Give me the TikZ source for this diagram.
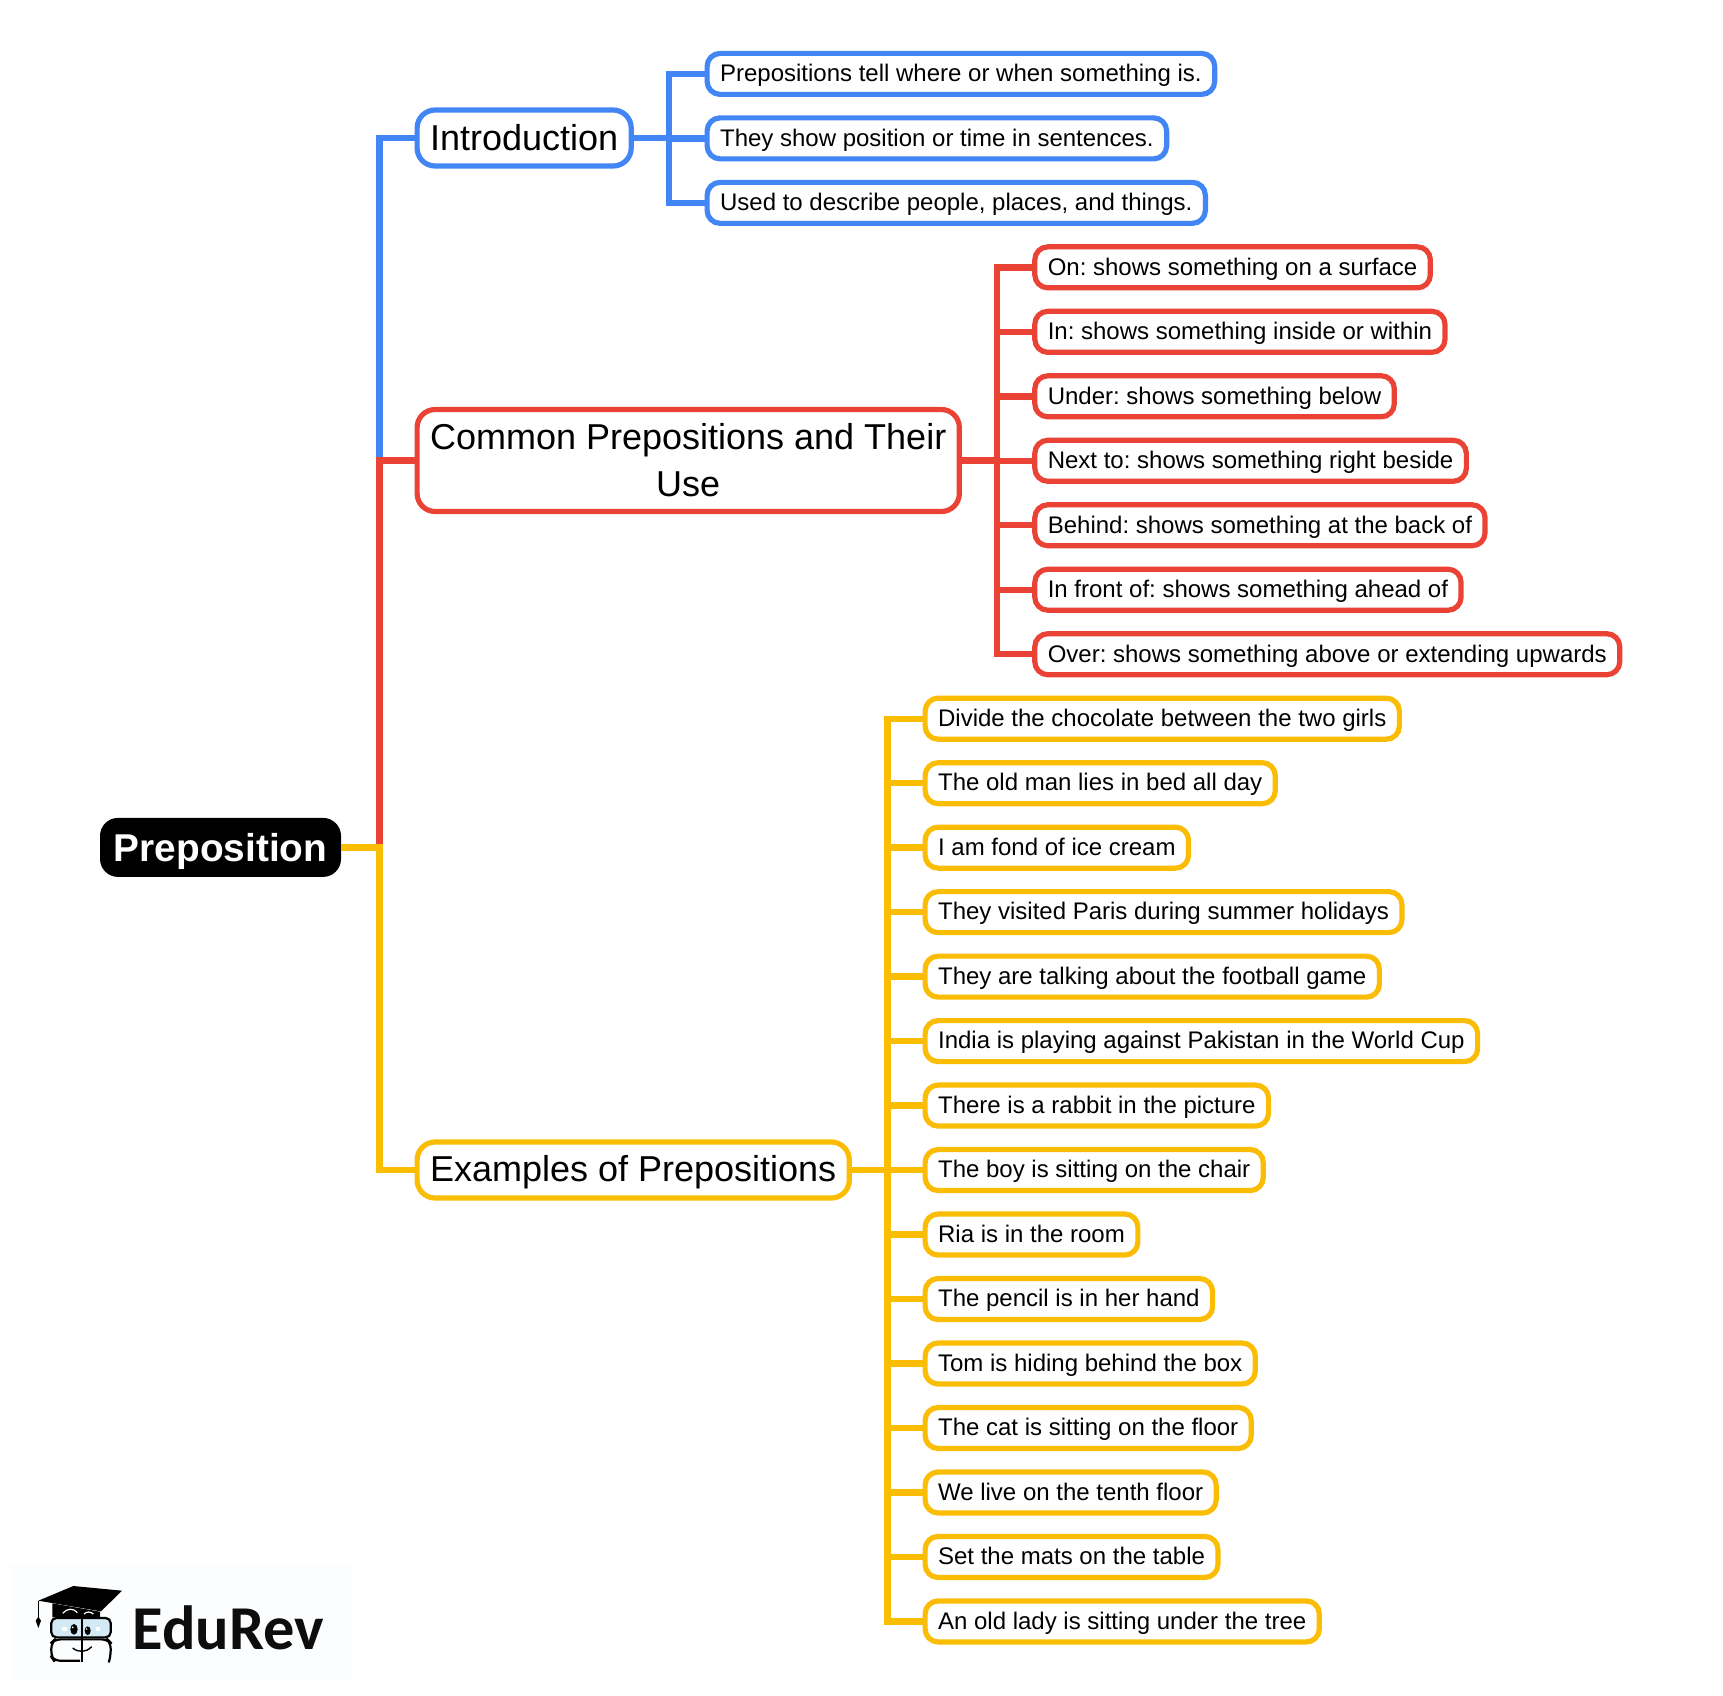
\documentclass[tikz,border=0pt]{standalone}
\usepackage{fontspec}
\setmainfont{Liberation Sans}
\newfontfamily\logofont{Carlito}
\frenchspacing
\definecolor{gblue}{HTML}{4285F4}
\definecolor{gred}{HTML}{EA4335}
\definecolor{gyellow}{HTML}{FBBC04}
\definecolor{logoblue}{HTML}{D3E9F6}
\definecolor{logoback}{HTML}{FCFDFE}
\tikzset{
  rootbox/.style={draw=black,fill=black,text=white,rounded corners=8.5pt,line width=1pt,
    minimum height=28.5pt,text height=15pt,text depth=1.4pt,inner xsep=6.4pt,inner ysep=0pt,anchor=west,
    font=\fontsize{19.4}{23}\selectfont\bfseries},
  bigbox/.style={draw=#1,fill=white,text=black,rounded corners=9pt,line width=2.6pt,
    minimum height=28pt,inner xsep=6.5pt,inner ysep=0pt,anchor=west,align=center,
    font=\fontsize{18}{23.6}\selectfont},
  oneline/.style={text height=14.4pt,text depth=2pt},
  leafbox/.style={draw=#1,fill=white,text=black,rounded corners=6.5pt,line width=2.6pt,
    minimum height=20.5pt,text height=9.5pt,text depth=1.7pt,inner xsep=6.5pt,inner ysep=0pt,anchor=west,
    font=\fontsize{12}{14}\selectfont},
  conn/.style={draw=#1,line width=3.2pt,line join=miter},
}
\newcommand{\rowy}[1]{73.9+64.48*#1}
\begin{document}
\begin{tikzpicture}[x=0.5pt,y=-0.5pt]
\useasboundingbox (0,0) rectangle (1723,1696);
% logo backdrop
\fill[logoback] (10,1565) rectangle (352,1680);
% nodes
\node[rootbox] (root) at (100,847.4) {Preposition};
\node[bigbox=gblue,oneline] (intro) at (414.5,138) {Introduction};
\node[bigbox=gred,minimum height=51pt] (common) at (414.5,460.5) {Common Prepositions and Their\\Use};
\node[bigbox=gyellow,text height=13.8pt,text depth=2pt] (examples) at (414.5,1170) {Examples of Prepositions};
% leaves
\foreach \n/\r/\t in {
 i1/0/{Prepositions tell where or when something is.},
 i2/1/{They show position or time in sentences.},
 i3/2/{Used to describe people, places, and things.}}
 \node[leafbox=gblue] (\n) at (704.5,\rowy{\r}) {\t};
\foreach \n/\r/\t in {
 c1/3/{On: shows something on a surface},
 c2/4/{In: shows something inside or within},
 c3/5/{Under: shows something below},
 c4/6/{Next to: shows something right beside},
 c5/7/{Behind: shows something at the back of},
 c6/8/{In front of: shows something ahead of},
 c7/9/{Over: shows something above or extending upwards}}
 \node[leafbox=gred] (\n) at (1032.2,\rowy{\r}) {\t};
\foreach \n/\r/\t in {
 e1/10/{Divide the chocolate between the two girls},
 e2/11/{The old man lies in bed all day},
 e3/12/{I am fond of ice cream},
 e4/13/{They visited Paris during summer holidays},
 e5/14/{They are talking about the football game},
 e6/15/{India is playing against Pakistan in the World Cup},
 e7/16/{There is a rabbit in the picture},
 e8/17/{The boy is sitting on the chair},
 e9/18/{Ria is in the room},
 e10/19/{The pencil is in her hand},
 e11/20/{Tom is hiding behind the box},
 e12/21/{The cat is sitting on the floor},
 e13/22/{We live on the tenth floor},
 e14/23/{Set the mats on the table},
 e15/24/{An old lady is sitting under the tree}}
 \node[leafbox=gyellow] (\n) at (922.5,\rowy{\r}) {\t};
% trunk and sub-trunks
\coordinate (trunk) at (379.3,847.4);
\coordinate (subI) at (669,138);
\coordinate (subC) at (997,460.5);
\coordinate (subE) at (887.5,1170);
\draw[conn=gblue] (root.east) -- (trunk) |- (intro.west);
\draw[conn=gred] (root.east) -- (trunk) |- (common.west);
\draw[conn=gyellow] (root.east) -- (trunk) |- (examples.west);
\draw[conn=gblue] (intro.east) -- (subI);
\foreach \n in {i1,i2,i3} \draw[conn=gblue] (subI) |- (\n.west);
\draw[conn=gred] (common.east) -- (subC);
\foreach \n in {c1,c2,c3,c4,c5,c6,c7} \draw[conn=gred] (subC) |- (\n.west);
\draw[conn=gyellow] (examples.east) -- (subE);
\foreach \n in {e1,e2,e3,e4,e5,e6,e7,e8,e9,e10,e11,e12,e13,e14,e15} \draw[conn=gyellow] (subE) |- (\n.west);
% logo
\node[anchor=west,inner sep=0pt,text=black!95!white,font=\fontsize{31.2}{36}\logofont\bfseries] (brand) at (132.5,1628) {EduRev};
\begin{scope}[shift={(0,1500)},x=0.16667pt,y=-0.16667pt]
  % cap back
  \fill[black] (157,310) -- (157,352) -- (300,352) -- (300,335) -- cycle;
  % face
  \draw[line width=1.1pt,fill=logoblue,rounded corners=2.5pt] (154,354) rectangle (332,412);
  \draw[line width=1.1pt,rounded corners=3pt] (245,418) -- (165,418) -- (154,428) -- (154,470) -- (162,482) -- (240,482);
  \draw[line width=1.1pt,rounded corners=3pt] (245,418) -- (322,418) -- (332,428) -- (332,470) -- (328,482);
  \draw[line width=1.1pt] (245,352) -- (245,485);
  \fill[white] (187,381) rectangle (200,394);
  \fill[white] (287,381) rectangle (300,394);
  \fill[black] (222,388) ellipse (11 and 16);
  \fill[black] (263,392) ellipse (9 and 13);
  \fill[white] (218,382) circle (3);
  \fill[white] (260,387) circle (2.5);
  \draw[line width=0.7pt] (218,444) .. controls (235,458) and (258,458) .. (275,440);
  % brows
  \draw[white,line width=0.6pt] (188,340) .. controls (200,324) and (222,324) .. (232,338);
  \draw[white,line width=0.6pt] (252,342) .. controls (260,334) and (272,334) .. (280,342);
  % mortarboard
  \fill[black] (115,302) -- (220,258) -- (366,272) -- (303,334) -- cycle;
  \draw[line width=0.5pt] (115,302) -- (115,352);
  \fill[black] (115,350) -- (123,362) -- (115,384) -- (107,362) -- cycle;
\end{scope}
\end{tikzpicture}
\end{document}
